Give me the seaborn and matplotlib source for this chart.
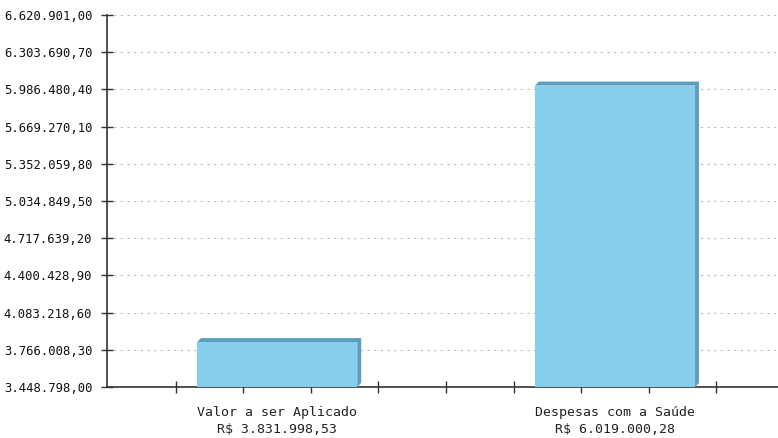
import numpy as np
import pandas as pd
import matplotlib
matplotlib.use("Agg")
import matplotlib.pyplot as plt
from matplotlib.patches import Polygon
import seaborn as sns

# data
categories = ["Valor a ser Aplicado", "Despesas com a Saúde"]
values = [3831998.53, 6019000.28]
y_min = 3448798.00
y_max = 6620901.00


def brl(v):
    s = f"{v:,.2f}"
    return s.replace(",", "X").replace(".", ",").replace("X", ".")


labels = [f"{c}\nR$ {brl(v)}" for c, v in zip(categories, values)]
df = pd.DataFrame({"label": labels, "valor": values})

plt.rcParams['font.family'] = ['DejaVu Sans Mono', 'DejaVu Sans']

fig = plt.figure(figsize=(7.78, 4.38), dpi=100)
ax = fig.add_axes([0.1375, 0.1164, 0.8625, 0.8494])

sns.barplot(data=df, x="label", y="valor", color="#87CEEB", saturation=1,
            width=0.474, ax=ax, edgecolor="none", linewidth=0)
for p in ax.patches:
    p.set_zorder(3)

ax.set_xlim(-0.504, 1.483)
ax.set_ylim(y_min, y_max)
yt = np.linspace(y_min, y_max, 11)
ax.set_yticks(yt)
ax.set_yticklabels([brl(t) for t in yt], fontsize=8.8, color="#111111")
ax.set_xticks(np.arange(-0.3, 1.4, 0.2), minor=True)
ax.tick_params(axis="x", which="major", length=0, pad=14, labelsize=9.5, colors="#222222")
for t in ax.get_xticklabels():
    t.set_linespacing(1.4)
ax.tick_params(axis="x", which="minor", direction="inout", length=8.5, width=1, color="#333333")
ax.tick_params(axis="y", direction="inout", length=9, width=1, color="#333333", pad=6)
ax.set_xlabel("")
ax.set_ylabel("")
for s in ["top", "right"]:
    ax.spines[s].set_visible(False)
for s in ["left", "bottom"]:
    ax.spines[s].set_color("#333333")
    ax.spines[s].set_linewidth(1.2)
ax.yaxis.grid(True, linestyle=(0, (2, 4)), color="#bbbbbb", linewidth=0.8)
ax.set_axisbelow(True)

# 3D-like shadow on top and right side of each bar
d = 4
inv = ax.transData.inverted()
for p in ax.patches:
    x0, x1 = p.get_x(), p.get_x() + p.get_width()
    y1 = p.get_y() + p.get_height()
    (px0, py0) = ax.transData.transform((x0, y_min))
    (px1, py1) = ax.transData.transform((x1, y1))
    pts = [(px0, py1), (px0 + d, py1 + d), (px1 + d, py1 + d),
           (px1 + d, py0 + d), (px1, py0), (px1, py1)]
    pts = inv.transform(pts)
    ax.add_patch(Polygon(pts, closed=True, facecolor="#5a9fbd",
                         edgecolor="none", zorder=2.9, clip_on=False))

fig.savefig("out.png", dpi=100)
